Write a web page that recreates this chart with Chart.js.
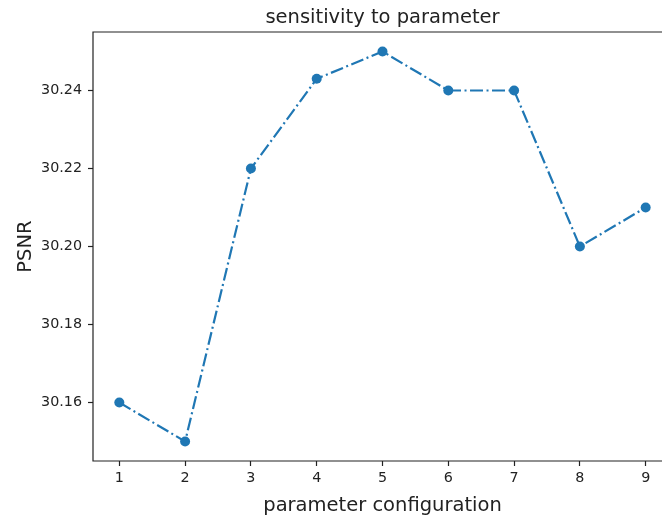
<!DOCTYPE html>
<html lang="en">
<head>
    <meta charset="UTF-8">
    <title>sensitivity to parameter</title>
    <script src="https://cdn.jsdelivr.net/npm/chart.js"></script>
    <style>
        body {
            margin: 0;
            background: #fff;
            overflow: hidden;
        }
        #wrap {
            width: 662px;
            height: 516px;
            overflow: hidden;
        }
    </style>
</head>
<body>
    <div id="wrap">
        <canvas id="psnrChart" width="672" height="516"></canvas>
    </div>

    <script>
        // Data
        const configs = [1, 2, 3, 4, 5, 6, 7, 8, 9];
        const psnr = [30.16, 30.15, 30.22, 30.243, 30.25, 30.24, 30.24, 30.20, 30.21];
        const xTicks = [1, 2, 3, 4, 5, 6, 7, 8, 9];
        const yTicks = [30.16, 30.18, 30.20, 30.22, 30.24];

        const axisColor = '#222';
        const lineColor = '#1f77b4';
        const fontFamily = '"DejaVu Sans", sans-serif';

        // matplotlib-like spines: left, top, bottom (right one falls outside the crop)
        const frame = {
            id: 'frame',
            afterDraw(chart) {
                const { ctx, chartArea: a } = chart;
                ctx.save();
                ctx.strokeStyle = axisColor;
                ctx.lineWidth = 1.2;
                ctx.beginPath();
                ctx.moveTo(a.right, a.top);
                ctx.lineTo(a.left, a.top);
                ctx.lineTo(a.left, a.bottom);
                ctx.lineTo(a.right, a.bottom);
                ctx.stroke();
                ctx.restore();
            }
        };

        const ctx = document.getElementById('psnrChart').getContext('2d');
        new Chart(ctx, {
            type: 'line',
            data: {
                datasets: [{
                    data: configs.map((c, i) => ({ x: c, y: psnr[i] })),
                    borderColor: lineColor,
                    backgroundColor: lineColor,
                    borderWidth: 2.2,
                    borderDash: [13, 3.5, 2, 3.5],
                    pointRadius: 5,
                    pointHoverRadius: 5,
                    pointBorderWidth: 0,
                    fill: false,
                    tension: 0
                }]
            },
            options: {
                responsive: false,
                animation: false,
                layout: { padding: 0, autoPadding: false },
                plugins: {
                    legend: { display: false },
                    tooltip: { enabled: false },
                    title: {
                        display: true,
                        text: 'sensitivity to parameter',
                        fullSize: false,
                        color: axisColor,
                        font: { family: fontFamily, size: 19.5, weight: 'normal' },
                        padding: { top: 6, bottom: 2.6 }
                    }
                },
                scales: {
                    x: {
                        type: 'linear',
                        min: 0.6,
                        max: 9.4,
                        afterBuildTicks: s => { s.ticks = xTicks.map(v => ({ value: v })); },
                        afterFit: s => { s.height = 55; },
                        grid: {
                            drawOnChartArea: false,
                            drawTicks: true,
                            tickLength: 5,
                            tickWidth: 1.2,
                            color: axisColor
                        },
                        border: { display: false },
                        ticks: {
                            color: axisColor,
                            padding: 4,
                            maxRotation: 0,
                            font: { family: fontFamily, size: 14.3 }
                        },
                        title: {
                            display: true,
                            text: 'parameter configuration',
                            color: axisColor,
                            font: { family: fontFamily, size: 19.5, lineHeight: 1.0 },
                            padding: { top: 0, bottom: 0 }
                        }
                    },
                    y: {
                        min: 30.145,
                        max: 30.255,
                        afterBuildTicks: s => { s.ticks = yTicks.map(v => ({ value: v })); },
                        afterFit: s => { s.width = 93; },
                        grid: {
                            drawOnChartArea: false,
                            drawTicks: true,
                            tickLength: 5,
                            tickWidth: 1.2,
                            color: axisColor
                        },
                        border: { display: false },
                        ticks: {
                            color: axisColor,
                            padding: 6,
                            font: { family: fontFamily, size: 14.3 },
                            callback: v => v.toFixed(2)
                        },
                        title: {
                            display: true,
                            text: 'PSNR',
                            color: axisColor,
                            font: { family: fontFamily, size: 19.5 },
                            padding: { top: 14, bottom: 0 }
                        }
                    }
                }
            },
            plugins: [frame]
        });
    </script>
</body>
</html>
